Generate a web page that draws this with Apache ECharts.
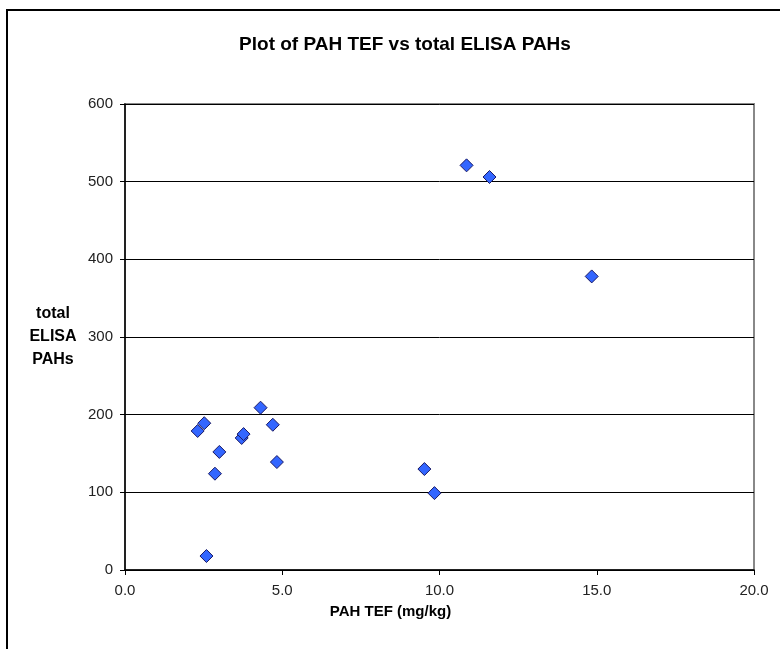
<!DOCTYPE html>
<html>
<head>
<meta charset="utf-8">
<script src="https://cdn.jsdelivr.net/npm/echarts@6/dist/echarts.min.js"></script>
<style>
html,body{margin:0;padding:0;background:#fff;}
#c{width:780px;height:649px;}
</style>
</head>
<body>
<div id="c"></div>
<script>
const pahTef = [10.86, 11.59, 14.84, 9.52, 9.84, 2.31, 2.52, 3.00, 2.86, 2.59, 3.71, 3.77, 4.31, 4.70, 4.83];
const elisaPahs = [521, 506, 378, 130, 99, 179, 189, 152, 124, 18, 170, 175, 209, 187, 139];
const xTicks = [0, 5, 10, 15, 20];
const yTicks = [0, 100, 200, 300, 400, 500, 600];

const points = pahTef.map((x, i) => [x, elisaPahs[i]]);
const font = 'Liberation Sans, Arial, sans-serif';
const chart = echarts.init(document.getElementById('c'));
chart.setOption({
  animation: false,
  backgroundColor: '#fff',
  title: {
    text: 'Plot of PAH TEF vs total ELISA PAHs',
    left: 400, top: 30, textAlign: 'center',
    textStyle: {fontFamily: font, fontSize: 19, fontWeight: 'bold', color: '#000'}
  },
  graphic: [{
    type: 'polyline', silent: true,
    shape: {points: [[7, 700], [7, 10], [800, 10]]},
    style: {stroke: '#000', lineWidth: 2, fill: null}
  }],
  grid: {left: 125, right: 26, top: 104, bottom: 79, show: true, borderColor: '#888', borderWidth: 2, backgroundColor: 'transparent'},
  xAxis: {
    type: 'value', min: xTicks[0], max: xTicks[xTicks.length - 1], interval: 5,
    name: 'PAH TEF (mg/kg)', nameLocation: 'middle', nameGap: 34,
    nameTextStyle: {fontFamily: font, fontSize: 15, fontWeight: 'bold', color: '#000', padding: [0, 98, 0, 0]},
    axisLine: {lineStyle: {color: '#000', width: 1.5}},
    axisTick: {show: true, length: 5, lineStyle: {color: '#000'}},
    axisLabel: {formatter: v => v.toFixed(1), fontFamily: font, fontSize: 15, color: '#222', margin: 13},
    splitLine: {show: false}
  },
  yAxis: {
    type: 'value', min: yTicks[0], max: yTicks[yTicks.length - 1], interval: 100,
    name: 'total\nELISA\nPAHs', nameLocation: 'middle', nameRotate: 0, nameGap: 72,
    nameTextStyle: {fontFamily: font, fontSize: 16, fontWeight: 'bold', color: '#000', align: 'center', lineHeight: 23, padding: [4, 0, 0, 0]},
    axisLine: {lineStyle: {color: '#000', width: 1.5}},
    axisTick: {show: true, length: 5, lineStyle: {color: '#000'}},
    axisLabel: {fontFamily: font, fontSize: 15, color: '#222', margin: 12},
    splitLine: {show: true, lineStyle: {color: '#000', width: 1}}
  },
  series: [{
    type: 'scatter',
    data: points,
    symbol: 'diamond',
    symbolSize: 13,
    itemStyle: {color: '#3366ff', borderColor: '#1a1a66', borderWidth: 1, opacity: 1}
  }]
});
</script>
</body>
</html>
